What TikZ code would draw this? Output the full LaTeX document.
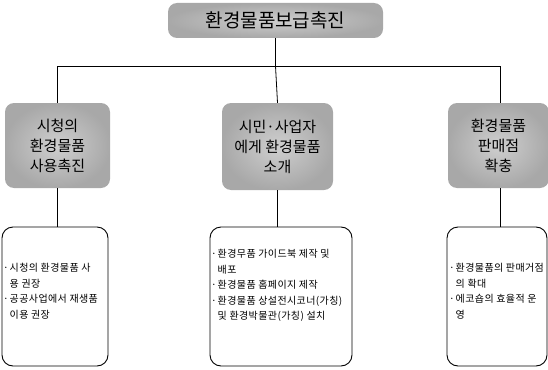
\documentclass[tikz,border=0pt]{standalone}
\usepackage{fontspec}
\setmainfont{Noto Sans CJK KR}
\newfontfamily\itemfont[LetterSpace=4]{Noto Sans CJK KR}
\newcommand\itembul{\makebox[6.5pt][l]{·}}
\newcommand\itemind{\hspace*{6.5pt}}
\begin{document}
\begin{tikzpicture}[x=1pt,y=-1pt,
  hdr/.style={rounded corners=9pt, inner color=gray!38, outer color=gray!68, draw=none, align=center, inner sep=0pt},
  leaf/.style={draw=black, line width=0.9pt, rounded corners=11pt, inner sep=0pt},
  item/.style={anchor=north west, align=left, inner sep=0pt, font=\itemfont\fontsize{10}{15.5}\selectfont},
  conn/.style={draw=black, line width=0.8pt},
  midfont/.style={font=\fontsize{15}{20}\selectfont}]
\useasboundingbox (0,0) rectangle (548,369);
% title
\node[hdr, minimum width=215pt, minimum height=35pt, font=\fontsize{19}{22}\selectfont] (title) at (275.5,20.5) {환경물품보급촉진};
% middle row
\node[hdr, midfont, minimum width=105pt, minimum height=85pt] (m1) at (57.5,145.5) {시청의\\환경물품\\사용촉진};
\node[hdr, midfont, minimum width=111pt, minimum height=87pt] (m2) at (277.5,146.5) {시민·사업자\\에게 환경물품\\소개};
\node[hdr, midfont, minimum width=101pt, minimum height=85pt] (m3) at (498.5,145.5) {환경물품\\판매점\\확충};
% bottom row
\node[leaf, minimum width=106pt, minimum height=139pt] (b1) at (55,296.5) {};
\node[leaf, minimum width=142pt, minimum height=139pt] (b2) at (281,296.5) {};
\node[leaf, minimum width=100pt, minimum height=139pt] (b3) at (497,296.5) {};
\node[item] (t1) at (3,263) {\itembul 시청의 환경물품 사\\\itemind 용 권장\\\itembul 공공사업에서 재생품\\\itemind 이용 권장};
\node[item] (t2) at (211,249) {\itembul 환경무품 가이드북 제작 및\\\itemind 배포\\\itembul 환경물품 홈페이지 제작\\\itembul 환경물품 상설전시코너(가칭)\\\itemind 및 환경박물관(가칭) 설치};
\node[item] (t3) at (449,263) {\itembul 환경물품의 판매거점\\\itemind 의 확대\\\itembul 에코숍의 효율적 운\\\itemind 영};
% connectors
\coordinate (hl) at (57,66);
\coordinate (hr) at (500,66);
\draw[conn] (title.south) -- (title.south |- hl);
\draw[conn] (hl) -- (hr);
\draw[conn] (hl) -- (hl |- m1.north);
\draw[conn] (title.south |- hl) -- (m2.north);
\draw[conn] (hr) -- (hr |- m3.north);
\draw[conn] (m1.south) -- (m1.south |- b1.north);
\draw[conn] (m2.south) -- (m2.south |- b2.north);
\draw[conn] (hr |- m3.south) -- (hr |- b3.north);
\end{tikzpicture}
\end{document}
